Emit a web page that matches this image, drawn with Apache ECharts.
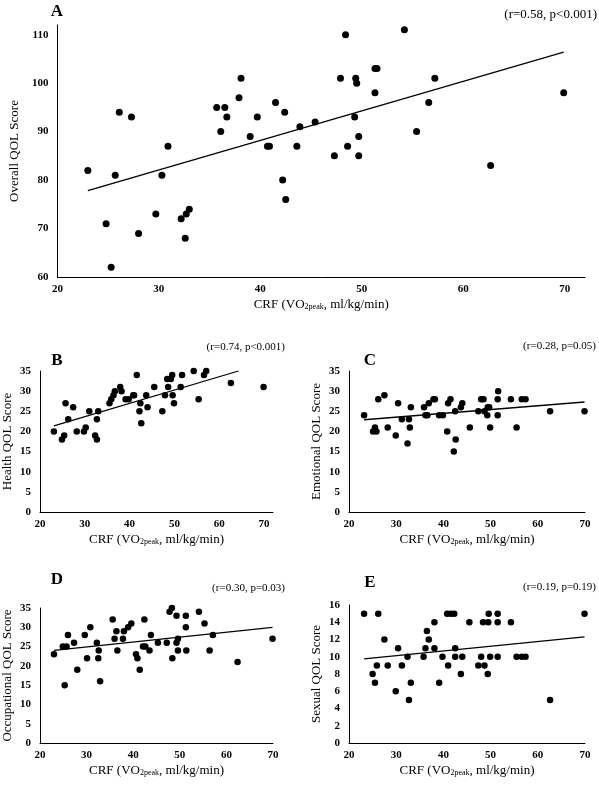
<!DOCTYPE html>
<html><head><meta charset="utf-8">
<script src="https://cdn.jsdelivr.net/npm/echarts/dist/echarts.min.js"></script>
<style>html,body{margin:0;padding:0;background:#fff}#c{width:599px;height:786px}</style>
</head><body><div id="c"></div><script>
// ---- Data ----
const crfA = [23.0,24.8,25.3,25.7,26.1,27.3,28.0,29.7,30.3,30.9,32.2,32.6,32.7,33.0,35.7,36.1,36.5,36.7,37.9,38.1,39.0,39.7,40.7,40.9,41.5,42.2,42.4,42.5,43.6,43.9,45.4,47.3,47.9,48.4,48.6,49.3,49.4,49.5,49.7,49.7,51.3,51.5,51.3,54.2,55.4,56.6,57.2,62.7,69.9];
const overallQOL = [82,71,62,81,94,93,69,73,81,87,72,68,73,74,95,90,95,93,97,101,89,93,87,87,96,80,94,76,87,91,92,85,101,110,87,93,101,100,89,85,103,103,98,111,90,96,101,83,98];

const crfB = [23.1,24.9,25.4,25.7,26.3,27.4,28.2,29.8,30.2,31.0,32.3,32.7,32.7,33.0,35.5,35.9,36.4,36.7,37.9,38.2,39.1,39.8,40.8,41.0,41.6,42.2,42.4,42.6,43.7,44.0,45.5,47.3,47.9,48.4,48.6,49.2,49.5,49.6,49.9,51.4,51.7,54.3,55.4,56.6,57.1,62.6,69.9];
const healthQOL = [20,18,19,27,23,26,20,20,21,25,19,18,23,25,27,28,29,30,31,30,28,28,29,29,34,25,27,22,29,26,31,25,29,33,31,33,34,29,27,31,34,35,28,34,35,32,31];

const crfC = [23.2,25.1,25.5,25.8,26.2,27.5,28.2,29.9,30.4,31.2,32.4,32.7,32.9,33.1,35.9,36.2,36.6,36.9,37.9,38.2,39.1,39.9,40.8,41.0,41.5,42.2,42.5,42.6,43.7,44.0,45.6,47.4,48.0,48.5,48.7,49.3,49.4,49.7,49.9,51.6,51.5,51.5,54.3,55.5,56.6,57.4,62.6,69.9];
const emotionalQOL = [24,20,21,20,28,29,21,19,27,23,17,23,21,26,26,24,24,27,28,28,24,24,20,27,28,15,25,18,26,27,21,25,28,28,25,24,26,26,21,30,28,24,28,21,28,28,25,25];

const crfD = [23.0,24.9,25.3,25.7,26.0,27.3,28.0,29.6,30.1,30.8,32.2,32.5,32.6,32.9,35.6,36.0,36.4,36.6,37.8,38.0,38.9,39.6,40.6,40.9,41.4,42.1,42.4,42.6,43.5,43.8,45.3,47.2,47.8,48.3,48.4,49.3,49.3,49.6,49.6,51.3,51.3,51.4,54.1,55.3,56.4,57.1,62.4,69.9];
const occupationalQOL = [23,25,15,25,28,26,19,28,22,30,26,22,24,16,32,27,29,24,27,29,30,31,23,22,19,25,32,25,24,28,26,26,34,35,22,33,26,27,24,33,30,24,34,31,24,28,21,27];

const crfE = [23.2,25.0,25.5,25.9,26.2,27.5,28.2,29.9,30.4,31.2,32.4,32.7,33.1,35.8,36.2,36.5,36.9,38.1,38.1,39.1,39.8,40.8,41.0,41.6,42.3,42.5,42.5,43.7,44.0,45.5,47.4,48.0,48.4,48.7,49.4,49.5,49.6,49.9,51.5,51.5,51.5,54.3,55.5,56.6,57.4,62.6,69.9];
const sexualQOL = [15,8,7,9,15,12,9,6,11,9,10,5,7,10,11,13,12,14,11,7,10,15,9,15,15,11,10,8,10,14,9,10,14,9,8,14,15,10,14,15,10,14,10,10,10,5,15];

// trend line end points
const trendA = [[23.0,77.8],[69.9,106.4]];
const trendB = [[23.1,21.4],[64.3,35.0]];
const trendC = [[23.2,22.9],[69.9,27.3]];
const trendD = [[23.0,24.0],[69.9,30.0]];
const trendE = [[23.2,9.75],[69.9,12.3]];

const yNames = ['Overall QOL Score','Health QOL Score','Emotional QOL Score','Occupational QOL Score','Sexual QOL Score'];
const panelLetters = ['A','B','C','D','E'];
const stats = ['(r=0.58, p<0.001)','(r=0.74, p<0.001)','(r=0.28, p=0.05)','(r=0.30, p=0.03)','(r=0.19, p=0.19)'];
const xName = 'CRF (VO{s|2peak}, ml/kg/min)';

// ---- Build ----
const FONT = '"Liberation Serif", "Times New Roman", serif';
const zip = (xs, ys) => xs.map((x, i) => [x, ys[i]]);
const xsets = [crfA, crfB, crfC, crfD, crfE];
const ysets = [overallQOL, healthQOL, emotionalQOL, occupationalQOL, sexualQOL];
const trends = [trendA, trendB, trendC, trendD, trendE];

const grids = [
  {left: 43, top: 25, width: 542, height: 252},
  {left: 37, top: 371, width: 236, height: 141},
  {left: 349, top: 371, width: 236, height: 141},
  {left: 37, top: 608, width: 236, height: 135},
  {left: 349, top: 605, width: 236, height: 138}
];
const xMax = [72, 72, 70, 70, 70];
const yAx = [
  {min: 60, max: 112, interval: 10},
  {min: 0, max: 35, interval: 5},
  {min: 0, max: 35, interval: 5},
  {min: 0, max: 35, interval: 5},
  {min: 0, max: 16, interval: 2}
];
const axLine = {show: true, lineStyle: {color: '#000', width: 1}};
const lblStyle = {color: '#000', fontFamily: FONT, fontSize: 11, fontWeight: 'bold'};

const option = {
  animation: false,
  backgroundColor: '#fff',
  grid: grids.map(g => Object.assign({containLabel: false}, g)),
  xAxis: grids.map((g, i) => ({
    type: 'value', gridIndex: i, min: 20, max: xMax[i], interval: 10,
    axisLine: axLine, axisTick: {show: false}, splitLine: {show: false},
    axisLabel: Object.assign({margin: 7, formatter: v => (v % 10 === 0 ? String(v) : '')}, lblStyle),
    name: xName, nameLocation: 'middle', nameGap: 21,
    nameTextStyle: {color: '#000', fontFamily: FONT, fontSize: 13,
      rich: {s: {fontSize: 8, fontFamily: FONT, color: '#000', verticalAlign: 'bottom', lineHeight: 8}}}
  })),
  yAxis: grids.map((g, i) => ({
    type: 'value', gridIndex: i, min: yAx[i].min, max: yAx[i].max, interval: yAx[i].interval,
    axisLine: axLine, axisTick: {show: false}, splitLine: {show: false},
    axisLabel: Object.assign({margin: 9, formatter: v => (v % yAx[i].interval === 0 && v <= yAx[i].max - (i === 0 ? 2 : 0) ? String(v) : '')}, lblStyle),
    name: yNames[i], nameLocation: 'middle', nameGap: i === 0 ? 34 : 26, nameRotate: 90,
    nameTextStyle: {color: '#000', fontFamily: FONT, fontSize: 13}
  })),
  series: [].concat(
    grids.map((g, i) => ({
      type: 'scatter', xAxisIndex: i, yAxisIndex: i, data: zip(xsets[i], ysets[i]),
      symbolSize: i === 0 ? 7 : 6.5, itemStyle: {color: '#000', opacity: 1}, silent: true
    })),
    grids.map((g, i) => ({
      type: 'line', xAxisIndex: i, yAxisIndex: i, data: trends[i], showSymbol: false,
      symbol: 'none', clip: true, lineStyle: {color: '#000', width: 1.3}, silent: true
    }))
  ),
  graphic: [
    {pos: [57, 12], size: 17}, {pos: [57, 361], size: 17}, {pos: [370, 361], size: 17},
    {pos: [57, 580], size: 17}, {pos: [370, 583], size: 17}
  ].map((p, i) => ({
    type: 'text', x: p.pos[0], y: p.pos[1],
    style: {text: panelLetters[i], font: 'bold ' + p.size + 'px ' + FONT, fill: '#000', align: 'center', verticalAlign: 'middle'}
  })).concat([
    {pos: [597, 15], size: 13}, {pos: [285, 347], size: 11}, {pos: [596, 346], size: 11},
    {pos: [285, 588], size: 11}, {pos: [596, 587], size: 11}
  ].map((p, i) => ({
    type: 'text', x: p.pos[0], y: p.pos[1],
    style: {text: stats[i], font: p.size + 'px ' + FONT, fill: '#000', align: 'right', verticalAlign: 'middle'}
  })))
};

const chart = echarts.init(document.getElementById('c'), null, {renderer: 'canvas'});
chart.setOption(option);
</script></body></html>
